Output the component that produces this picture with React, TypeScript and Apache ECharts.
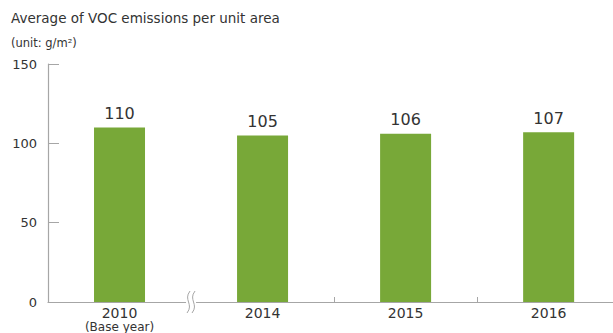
import React, { useEffect, useRef } from "react";
import * as echarts from "echarts";

const categories = ["2010", "2014", "2015", "2016"];
const baseYearNote = "(Base year)";
const values = [110, 105, 106, 107];
const yTicks = [0, 50, 100, 150];
const titleLines = ["Average of VOC emissions per unit area", "(unit: g/m\u00b2)"];

const FONT = "DejaVu Sans, Verdana, sans-serif";
const AXIS = "#a6a6a6";

export default function App() {
  const ref = useRef<HTMLDivElement>(null);
  useEffect(() => {
    const chart = echarts.init(ref.current!, null, { renderer: "svg" });
    chart.setOption({
      animation: false,
      grid: { left: 48, right: 0, top: 64, bottom: 30 },
      xAxis: {
        type: "value",
        min: -0.5,
        max: 3.45,
        axisLine: { show: true, onZero: false, lineStyle: { color: AXIS, width: 1.2 } },
        splitLine: { show: false },
        axisTick: {
          show: true,
          customValues: [1.5, 2.5],
          inside: true,
          length: 5,
          lineStyle: { color: AXIS },
        },
        axisLabel: {
          customValues: [0, 1, 2, 3],
          formatter: (v: number) => {
            const i = Math.round(v);
            const name = categories[i] ?? "";
            return i === 0 ? `{a|${name}}\n{b|${baseYearNote}}` : `{a|${name}}`;
          },
          color: "#333",
          fontFamily: FONT,
          margin: 3,
          rich: {
            a: { fontSize: 14, lineHeight: 16, fontFamily: FONT, color: "#333" },
            b: { fontSize: 12, lineHeight: 12, fontFamily: FONT, color: "#333" },
          },
        },
      },
      yAxis: {
        type: "value",
        min: yTicks[0],
        max: yTicks[yTicks.length - 1],
        interval: 50,
        axisLine: { show: true, onZero: false, lineStyle: { color: AXIS, width: 1.2 } },
        axisTick: { show: true, inside: true, length: 11, lineStyle: { color: AXIS } },
        splitLine: { show: false },
        axisLabel: { color: "#333", fontFamily: FONT, fontSize: 13, margin: 11 },
      },
      series: [
        {
          type: "bar",
          data: values.map((v, i) => [i, v]),
          barWidth: 51,
          itemStyle: { color: "#78a838" },
          label: {
            show: true,
            position: "top",
            distance: 6,
            color: "#333",
            fontFamily: FONT,
            fontSize: 16,
            formatter: (p: any) => String(p.value[1]),
          },
        },
      ],
    });
    const [bx, by] = chart.convertToPixel({ gridIndex: 0 }, [0.5, 0]) as number[];
    chart.setOption({
      graphic: [
        {
          type: "text",
          left: 11,
          top: 11,
          style: { text: titleLines[0], fill: "#333", font: `13.5px ${FONT}` },
        },
        {
          type: "text",
          left: 11,
          top: 37,
          style: { text: titleLines[1], fill: "#333", font: `11.5px ${FONT}` },
        },
        {
          type: "rect",
          shape: { x: bx - 5, y: by - 3, width: 10, height: 6 },
          style: { fill: "#fff" },
          z: 100,
        },
        {
          type: "bezierCurve",
          shape: { x1: bx - 1, y1: by - 11, cpx1: bx - 8, cpy1: by - 2, cpx2: bx + 3, cpy2: by + 2, x2: bx - 4, y2: by + 11 },
          style: { stroke: AXIS, lineWidth: 1, fill: "none" },
          z: 101,
        },
        {
          type: "bezierCurve",
          shape: { x1: bx + 4, y1: by - 11, cpx1: bx - 3, cpy1: by - 2, cpx2: bx + 8, cpy2: by + 2, x2: bx + 1, y2: by + 11 },
          style: { stroke: AXIS, lineWidth: 1, fill: "none" },
          z: 101,
        },
      ],
    });
    return () => chart.dispose();
  }, []);
  return <div ref={ref} style={{ width: 613, height: 333, position: "absolute", left: 0, top: 0, background: "#fff" }} />;
}
